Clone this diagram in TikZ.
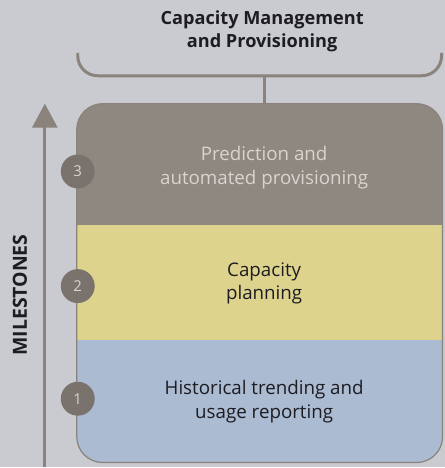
\documentclass[tikz,border=0pt]{standalone}
\usepackage{fontspec}
\setmainfont{Open Sans}
\usetikzlibrary{positioning,calc,arrows.meta}

\definecolor{bgc}{RGB}{201,203,209}
\definecolor{taupe}{RGB}{143,136,128}
\definecolor{sand}{RGB}{221,211,141}
\definecolor{sky}{RGB}{171,187,210}
\definecolor{ink}{RGB}{28,28,34}
\definecolor{dot}{RGB}{122,114,108}
\definecolor{pale}{RGB}{216,212,207}
\definecolor{line}{RGB}{138,130,123}

\begin{document}
\begin{tikzpicture}[x=1pt,y=-1pt,
    band/.style={inner sep=0, align=center, text=ink, font=\fontsize{18.8}{23.5}\selectfont},
    milestone/.style={circle, fill=dot, minimum size=34pt, inner sep=0, text=pale, font=\fontsize{15}{15}\selectfont},
    rail/.style={draw=line, line width=3pt}]
    % Background
    \fill[bgc] (0,0) rectangle (446,468);

    % Stacked box
    \node[draw=line, line width=1.2pt, rounded corners=26pt, minimum width=367pt, minimum height=360pt, inner sep=0,
        path picture={
            \fill[taupe, sharp corners] (-190,-190) rectangle (190,-58);
            \fill[sand, sharp corners] (-190,-58) rectangle (190,57);
            \fill[sky, sharp corners] (-190,57) rectangle (190,190);
        }] (box) at (260.5,284) {};

    % Band labels
    \node[band, text=pale] (predict) at (265,168) {Prediction and\\automated provisioning};
    \node[band] (plan) at (265,284) {Capacity\\planning};
    \node[band] (history) at (265,403) {Historical trending and\\usage reporting};

    % Milestone markers
    \node[milestone] (m3) at (78,172) {3};
    \node[milestone] (m2) at (78,287) {2};
    \node[milestone] (m1) at (78,400) {1};

    % Title and bracket
    \node[band, font=\bfseries\fontsize{18.2}{23}\selectfont] (title) at (263,31) {Capacity Management\\and Provisioning};
    \draw[rail, rounded corners=20pt] (78,53) -- (78,76) -- (443,76) -- (443,53);
    \coordinate (brace) at (265,76);
    \draw[rail] (brace) -- (brace |- box.north);

    % Milestone axis
    \coordinate (base) at (45,468);
    \coordinate (tip) at (45,104);
    \draw[rail, -{Triangle[width=25pt,length=24pt]}] (base) -- (tip);
    \node[rotate=90, text=ink, font=\bfseries\fontsize{19.5}{19.5}\selectfont] (axis) at (20,296) {MILESTONES};
\end{tikzpicture}
\end{document}
